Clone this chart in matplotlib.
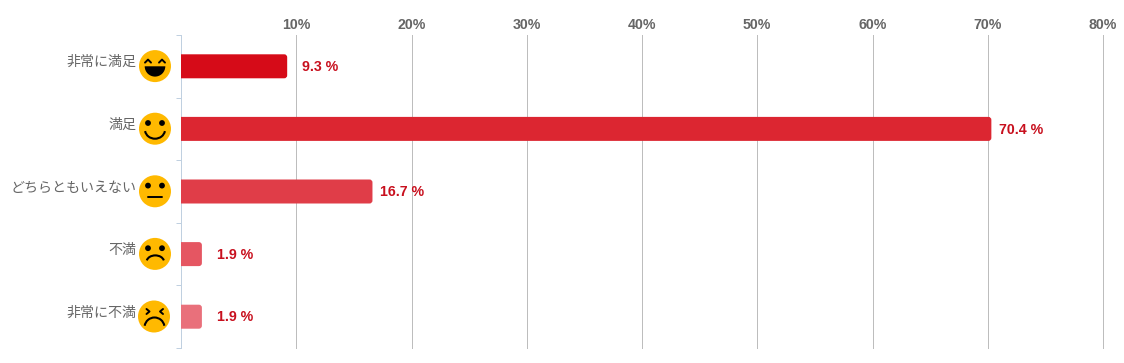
import matplotlib
matplotlib.use("Agg")
import matplotlib.pyplot as plt
from matplotlib.patches import Circle, Arc, FancyBboxPatch, Wedge
from matplotlib.lines import Line2D

categories = ["非常に満足", "満足", "どちらともいえない", "不満", "非常に不満"]
values = [9.3, 70.4, 16.7, 1.9, 1.9]
value_labels = ["9.3 %", "70.4 %", "16.7 %", "1.9 %", "1.9 %"]
bar_colors = ["#D60B18", "#DC2631", "#E03D48", "#E55662", "#E9707B"]
x_ticks = [10, 20, 30, 40, 50, 60, 70, 80]
x_tick_labels = ["10%", "20%", "30%", "40%", "50%", "60%", "70%", "80%"]
faces = ["laugh", "smile", "neutral", "frown", "cry"]

W, H = 1124, 363
L, R, T, B = 181.0, 1103.0, 35.0, 348.0
fig = plt.figure(figsize=(W / 100, H / 100), dpi=100, facecolor="white")
ax = fig.add_axes([L / W, 1 - B / H, (R - L) / W, (B - T) / H])
ax.set_xlim(0, 80)
ax.set_ylim(4.5, -0.5)
px_x = (R - L) / 80
px_y = (B - T) / 5

for s in ["top", "right", "bottom"]:
    ax.spines[s].set_visible(False)
ax.spines["left"].set_color("#C0D0E0")
ax.spines["left"].set_linewidth(0.72)

ax.xaxis.tick_top()
ax.set_xticks(x_ticks)
ax.set_xticklabels(x_tick_labels, fontfamily="Liberation Sans", fontweight="bold",
                   fontsize=10.2, color="#666666")
ax.tick_params(axis="x", length=0, pad=2.0)
ax.grid(axis="x", color="#BDBDBD", linewidth=0.72, clip_on=False)
ax.set_axisbelow(True)

ax.set_yticks(range(len(categories)))
ax.set_yticklabels(categories, fontfamily=["Noto Sans CJK JP", "DejaVu Sans"],
                   fontsize=10.1, color="#666666", va="baseline")
ax.tick_params(axis="y", which="major", length=0, pad=32.2)
ax.set_yticks([i - 0.5 for i in range(len(categories) + 1)], minor=True)
ax.tick_params(axis="y", which="minor", length=3.6, width=0.72, color="#C0D0E0")

bar_h = 24 / px_y
r_x = 3 / px_x
aspect = (3 / px_y) / r_x
offsets_px = [14.5, 8, 8, 15.5, 15.5]
for i, (v, c, lab, off) in enumerate(zip(values, bar_colors, value_labels, offsets_px)):
    end = v - 1.0 / px_x
    ax.add_patch(FancyBboxPatch((-1, i - bar_h / 2), end + 1, bar_h,
                                boxstyle=f"round,pad=0,rounding_size={r_x}",
                                mutation_aspect=aspect, fc=c, ec="none", zorder=3))
    ax.annotate(lab, xy=(end, i), xytext=(off * 0.72, -0.5), textcoords="offset points",
                ha="left", va="center", fontfamily="Liberation Sans", fontweight="bold",
                fontsize=10.2, color="#C8101E", zorder=4)

# Pixel-space overlay for the emoji icons beside the category labels
ov = fig.add_axes([0, 0, 1, 1], facecolor="none")
ov.set_xlim(0, W)
ov.set_ylim(H, 0)
ov.axis("off")


def draw_face(kind, cx, cy):
    r = 16
    ov.add_patch(Circle((cx, cy), r, fc="#FFB900", ec="none"))
    k = dict(color="black", lw=1.4, solid_capstyle="round")
    dots = kind in ("smile", "neutral", "frown")
    if dots:
        for sx in (-7, 7):
            ov.add_patch(Circle((cx + sx, cy - 5.7), 2.9, fc="black", ec="none"))
    if kind == "laugh":
        for sx in (-7, 7):
            ov.add_line(Line2D([cx + sx - 3, cx + sx, cx + sx + 3],
                               [cy - 3.5, cy - 6.5, cy - 3.5], **k))
        ov.add_patch(Wedge((cx, cy + 0.2), 10.3, 0, 180, fc="black", ec="none"))
    elif kind == "smile":
        ov.add_patch(Arc((cx, cy + 1), 20, 18, theta1=8, theta2=172, ec="black", lw=1.5))
    elif kind == "neutral":
        ov.add_line(Line2D([cx - 6.7, cx + 6.7], [cy + 5.7, cy + 5.7], **k))
    elif kind == "frown":
        ov.add_patch(Arc((cx + 0.3, cy + 8), 17.5, 13, theta1=190, theta2=350, ec="black", lw=1.5))
    elif kind == "cry":
        ov.add_line(Line2D([cx - 7.5, cx - 4.5, cx - 7.5], [cy - 7.5, cy - 5, cy - 2.5], **k))
        ov.add_line(Line2D([cx + 9, cx + 6, cx + 9], [cy - 7.5, cy - 5, cy - 2.5], **k))
        ov.add_patch(Arc((cx + 0.5, cy + 11), 20, 20, theta1=190, theta2=350, ec="black", lw=1.5))


for i, kind in enumerate(faces):
    cy = T + px_y * (i + 0.5) - 0.2
    cx = 154 if kind == "cry" else 155
    draw_face(kind, cx, cy)

fig.savefig("out.png", dpi=100, facecolor="white")
